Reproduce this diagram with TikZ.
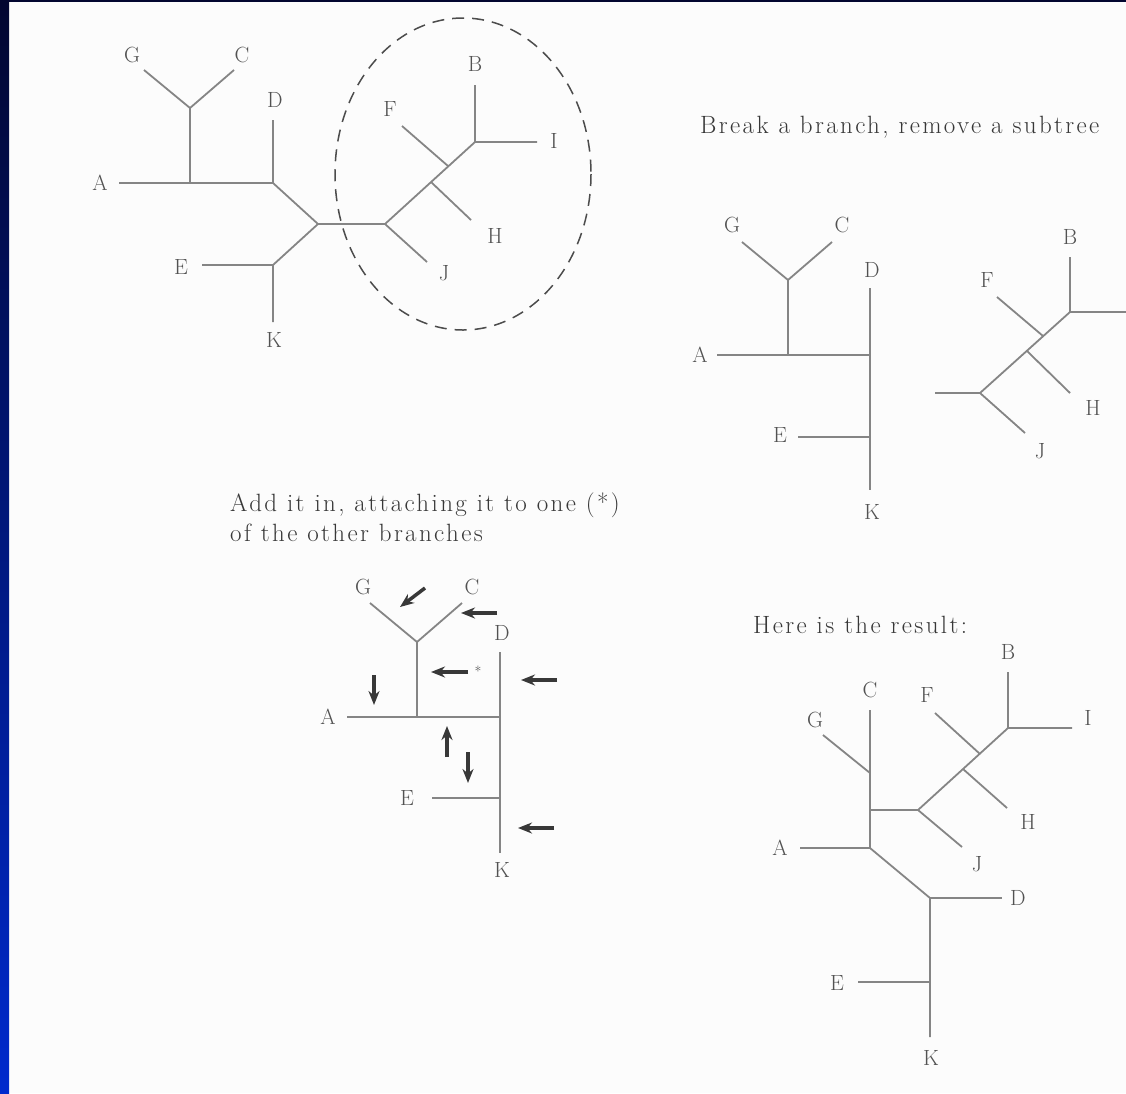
\documentclass[tikz,border=0pt]{standalone}
\usepackage{fontspec}
\newfontfamily\captfont{Latin Modern Roman}[LetterSpace=9.5]
\usepackage{tikz}
\usetikzlibrary{arrows.meta}
\usetikzlibrary{positioning}
\definecolor{slidetop}{RGB}{2,6,48}
\definecolor{slidebot}{RGB}{0,42,205}
\definecolor{branch}{gray}{0.52}
\definecolor{lettr}{gray}{0.32}
\definecolor{capt}{gray}{0.22}
\tikzset{
    limb/.style={
           draw=branch,
           line width=1.8pt,
           line join=miter,
           },
}
\tikzset{
    leaf/.style={
           text=lettr,
           inner sep=0pt,
           font=\fontsize{22}{24}\selectfont,
           },
}
\tikzset{
    caption/.style={
           text=capt,
           anchor=west,
           inner sep=0pt,
           align=left,
           font=\captfont\fontsize{25}{30}\selectfont,
           },
}
\tikzset{
    pick/.style={
           draw=black!78,
           line width=3.5pt,
           -{Stealth[length=14pt,width=11pt]},
           },
}

\begin{document}
\begin{tikzpicture}[x=1pt,y=-1pt]
\clip (0,0) rectangle (1126,1093);
\fill[white!99!black] (0,0) rectangle (1126,1093);
\shade[top color=slidetop,bottom color=slidebot] (0,0) rectangle (9,1093);
\fill[slidetop] (0,0) rectangle (1126,2);

% the whole tree, with the subtree to be moved ringed
\coordinate (a-g) at (144,70);
\coordinate (a-gc) at (190,108);
\coordinate (a-c) at (234,70);
\coordinate (a-a) at (119,183);
\coordinate (a-ag) at (190,183);
\coordinate (a-d) at (273,120);
\coordinate (a-ad) at (273,183);
\coordinate (a-mid) at (318,224);
\coordinate (a-ek) at (273,265);
\coordinate (a-e) at (202,265);
\coordinate (a-k) at (273,322);
\coordinate (a-cut) at (385,224);
\coordinate (a-j) at (427,262);
\coordinate (a-h0) at (431,182);
\coordinate (a-h) at (471,220);
\coordinate (a-f0) at (448,166);
\coordinate (a-f) at (402,126);
\coordinate (a-bi) at (475,142);
\coordinate (a-b) at (475,85);
\coordinate (a-i) at (537,142);
\draw[limb] (a-g) -- (a-gc) -- (a-c);
\draw[limb] (a-gc) -- (a-ag);
\draw[limb] (a-a) -- (a-ad) -- (a-mid) -- (a-cut) -- (a-bi) -- (a-i);
\draw[limb] (a-d) -- (a-ad);
\draw[limb] (a-mid) -- (a-ek) -- (a-k);
\draw[limb] (a-e) -- (a-ek);
\draw[limb] (a-cut) -- (a-j);
\draw[limb] (a-h0) -- (a-h);
\draw[limb] (a-f0) -- (a-f);
\draw[limb] (a-bi) -- (a-b);
\draw[line width=1.5pt,draw=black!70,dash pattern=on 12pt off 8pt] (463,174) ellipse [x radius=128,y radius=156];
\node[leaf](aG) at (132,55){G};
\node[leaf](aC) at (242,55){C};
\node[leaf](aD) at (275,100){D};
\node[leaf](aA) at (100,183){A};
\node[leaf](aE) at (181,267){E};
\node[leaf](aK) at (274,340){K};
\node[leaf](aF) at (390,109){F};
\node[leaf](aB) at (475,64){B};
\node[leaf](aI) at (554,141){I};
\node[leaf](aH) at (495,236){H};
\node[leaf](aJ) at (444,273){J};

% broken apart
\node[caption](bcap) at (700,127){Break a branch, remove a subtree};
\coordinate (b-g) at (742,242);
\coordinate (b-gc) at (788,280);
\coordinate (b-c) at (832,242);
\coordinate (b-a) at (717,355);
\coordinate (b-ag) at (788,355);
\coordinate (b-d) at (870,288);
\coordinate (b-ad) at (870,355);
\coordinate (b-ek) at (870,437);
\coordinate (b-e) at (798,437);
\coordinate (b-k) at (870,490);
\draw[limb] (b-g) -- (b-gc) -- (b-c);
\draw[limb] (b-gc) -- (b-ag);
\draw[limb] (b-a) -- (b-ad);
\draw[limb] (b-d) -- (b-k);
\draw[limb] (b-e) -- (b-ek);
\node[leaf](bG) at (732,225){G};
\node[leaf](bC) at (842,225){C};
\node[leaf](bD) at (872,270){D};
\node[leaf](bA) at (700,355){A};
\node[leaf](bE) at (780,435){E};
\node[leaf](bK) at (872,512){K};
\coordinate (b-stub) at (935,393);
\coordinate (b-cut) at (980,393);
\coordinate (b-j) at (1025,433);
\coordinate (b-h0) at (1027,351);
\coordinate (b-h) at (1070,393);
\coordinate (b-f0) at (1043,336);
\coordinate (b-f) at (997,297);
\coordinate (b-bi) at (1070,312);
\coordinate (b-b) at (1070,257);
\coordinate (b-i) at (1140,312);
\draw[limb] (b-stub) -- (b-cut) -- (b-bi) -- (b-i);
\draw[limb] (b-cut) -- (b-j);
\draw[limb] (b-h0) -- (b-h);
\draw[limb] (b-f0) -- (b-f);
\draw[limb] (b-bi) -- (b-b);
\node[leaf](bF) at (987,280){F};
\node[leaf](bB) at (1070,237){B};
\node[leaf](bH) at (1093,408){H};
\node[leaf](bJ) at (1040,451){J};

% places where the subtree could go back in
\node[caption](ccap) at (230,517){Add it in, attaching it to one (*)\\of the other branches};
\coordinate (c-g) at (370,603);
\coordinate (c-gc) at (417,642);
\coordinate (c-c) at (462,603);
\coordinate (c-a) at (347,717);
\coordinate (c-ag) at (417,717);
\coordinate (c-d) at (500,652);
\coordinate (c-ad) at (500,717);
\coordinate (c-ek) at (500,798);
\coordinate (c-e) at (432,798);
\coordinate (c-k) at (500,853);
\draw[limb] (c-g) -- (c-gc) -- (c-c);
\draw[limb] (c-gc) -- (c-ag);
\draw[limb] (c-a) -- (c-ad);
\draw[limb] (c-d) -- (c-k);
\draw[limb] (c-e) -- (c-ek);
\node[leaf](cG) at (363,587){G};
\node[leaf](cC) at (472,587){C};
\node[leaf](cD) at (502,633){D};
\node[leaf](cA) at (328,717){A};
\node[leaf](cE) at (407,798){E};
\node[leaf](cK) at (502,870){K};
\coordinate (p1) at (425,588);
\coordinate (q1) at (400,607);
\coordinate (p2) at (497,613);
\coordinate (q2) at (461,613);
\coordinate (p3) at (468,672);
\coordinate (q3) at (431,672);
\coordinate (p4) at (557,680);
\coordinate (q4) at (521,680);
\coordinate (p5) at (374,675);
\coordinate (q5) at (374,705);
\coordinate (p6) at (447,757);
\coordinate (q6) at (447,726);
\coordinate (p7) at (468,752);
\coordinate (q7) at (468,783);
\coordinate (p8) at (554,828);
\coordinate (q8) at (518,828);
\foreach \n in {1,...,8}
    \draw[pick] (p\n) -- (q\n);
\node[leaf,font=\fontsize{14}{14}\selectfont](star) at (478,671){*};

% put back on the C branch
\node[caption](dcap) at (753,625){Here is the result:};
\coordinate (d-b) at (1008,672);
\coordinate (d-bi) at (1008,728);
\coordinate (d-i) at (1072,728);
\coordinate (d-f) at (935,713);
\coordinate (d-f0) at (980,754);
\coordinate (d-h0) at (963,769);
\coordinate (d-h) at (1007,808);
\coordinate (d-cut) at (918,810);
\coordinate (d-j) at (962,847);
\coordinate (d-c) at (870,710);
\coordinate (d-g) at (823,735);
\coordinate (d-g0) at (870,773);
\coordinate (d-x) at (870,810);
\coordinate (d-ad) at (870,848);
\coordinate (d-a) at (800,848);
\coordinate (d-dk) at (930,898);
\coordinate (d-d) at (1002,898);
\coordinate (d-ek) at (930,982);
\coordinate (d-e) at (858,982);
\coordinate (d-k) at (930,1037);
\draw[limb] (d-c) -- (d-ad) -- (d-dk) -- (d-k);
\draw[limb] (d-g) -- (d-g0);
\draw[limb] (d-x) -- (d-cut) -- (d-bi) -- (d-i);
\draw[limb] (d-bi) -- (d-b);
\draw[limb] (d-f0) -- (d-f);
\draw[limb] (d-h0) -- (d-h);
\draw[limb] (d-cut) -- (d-j);
\draw[limb] (d-a) -- (d-ad);
\draw[limb] (d-dk) -- (d-d);
\draw[limb] (d-e) -- (d-ek);
\node[leaf](dB) at (1008,652){B};
\node[leaf](dI) at (1088,718){I};
\node[leaf](dC) at (870,690){C};
\node[leaf](dF) at (927,695){F};
\node[leaf](dG) at (815,720){G};
\node[leaf](dH) at (1028,822){H};
\node[leaf](dJ) at (977,864){J};
\node[leaf](dA) at (780,848){A};
\node[leaf](dD) at (1018,898){D};
\node[leaf](dE) at (837,983){E};
\node[leaf](dK) at (931,1058){K};
\end{tikzpicture}
\end{document}
